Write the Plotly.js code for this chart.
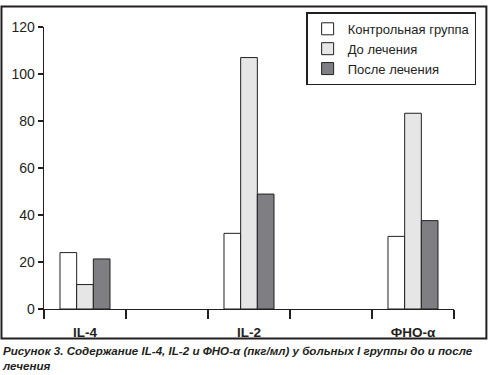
<!DOCTYPE html>
<html>
<head>
<meta charset="utf-8">
<script src="https://cdn.plot.ly/plotly-3.0.1.min.js"></script>
<style>
  html, body { margin: 0; padding: 0; background: #fff; }
  #chart { width: 490px; height: 375px; }
</style>
</head>
<body>
<div id="chart"></div>
<script>
// ---- data ----
const categories = ['IL-4', 'IL-2', 'ФНО-α'];
const seriesNames = ['Контрольная группа', 'До лечения', 'После лечения'];
const control = [24.0, 32.2, 30.9];
const beforeTreatment = [10.4, 107.0, 83.3];
const afterTreatment = [21.3, 48.9, 37.6];
const yTicks = [0, 20, 40, 60, 80, 100, 120];
const caption = 'Рисунок 3. Содержание IL-4, IL-2 и ФНО-α (пкг/мл) у больных I группы до и после<br>лечения';

// ---- layout helpers ----
const fills = ['#ffffff', '#e6e6e6', '#7f7f83'];
const ink = '#231f20';
// each category occupies two slots (category + empty gap), ticks at slot boundaries
const xpos = categories.map((c, i) => i * 2 + 0.5);
const slotBounds = [];
for (let i = 0; i <= categories.length * 2 - 1; i++) slotBounds.push(i);

const seriesValues = [control, beforeTreatment, afterTreatment];
const traces = seriesValues.map((vals, k) => ({
  type: 'bar',
  name: seriesNames[k],
  x: xpos,
  y: vals,
  marker: { color: fills[k], line: { color: ink, width: 1 } },
  hoverinfo: 'skip'
}));
// invisible trace to carry the category labels axis
traces.push({
  type: 'scatter', x: xpos, y: xpos.map(() => null), xaxis: 'x2',
  showlegend: false, hoverinfo: 'skip', mode: 'markers'
});

const xRange = [0, categories.length * 2 - 1];

const layout = {
  width: 490, height: 375,
  margin: { l: 44, r: 36, t: 22, b: 66 },
  paper_bgcolor: '#fff', plot_bgcolor: '#fff',
  font: { family: 'Liberation Sans, Arial, sans-serif', color: ink, size: 13 },
  barmode: 'group',
  bargap: 0.695,
  bargroupgap: 0,
  showlegend: true,
  legend: {
    x: 1.054, xanchor: 'right', y: 1.052, yanchor: 'top',
    bgcolor: '#fff', bordercolor: ink, borderwidth: 1.5,
    font: { size: 13, color: ink }, tracegroupgap: 0
  },
  xaxis: {
    range: xRange, showgrid: false, zeroline: false,
    showline: true, linecolor: ink, linewidth: 1.3,
    tickmode: 'array', tickvals: slotBounds, showticklabels: false,
    ticks: 'outside', ticklen: 9, tickwidth: 1.3, tickcolor: ink,
    fixedrange: true
  },
  xaxis2: {
    overlaying: 'x', anchor: 'y', side: 'bottom',
    range: xRange, showgrid: false, zeroline: false, showline: false,
    tickmode: 'array', tickvals: xpos, ticktext: categories,
    ticks: '', ticklabelstandoff: 13,
    tickfont: { family: 'Liberation Sans, Arial, sans-serif', size: 13.5, color: ink, weight: 'bold' },
    fixedrange: true
  },
  yaxis: {
    range: [0, 120], showgrid: false, zeroline: false,
    showline: true, linecolor: ink, linewidth: 1.3,
    tickmode: 'array', tickvals: yTicks,
    ticks: 'outside', ticklen: 5, tickwidth: 1.3, tickcolor: ink,
    tickfont: { size: 14, color: ink },
    fixedrange: true
  },
  shapes: [{
    type: 'rect', xref: 'paper', yref: 'paper',
    x0: -0.1037, x1: 1.079, y0: -0.105, y1: 1.0725,
    line: { color: ink, width: 2 }, fillcolor: 'rgba(0,0,0,0)', layer: 'below'
  }],
  annotations: [{
    xref: 'paper', yref: 'paper', x: -0.108, y: -0.116,
    xanchor: 'left', yanchor: 'top', align: 'left', showarrow: false,
    text: '<b><i>' + caption + '</i></b>',
    font: { family: 'Liberation Sans, Arial, sans-serif', size: 11.6, color: ink }
  }]
};

Plotly.newPlot('chart', traces, layout, { displayModeBar: false, staticPlot: true });
</script>
</body>
</html>
